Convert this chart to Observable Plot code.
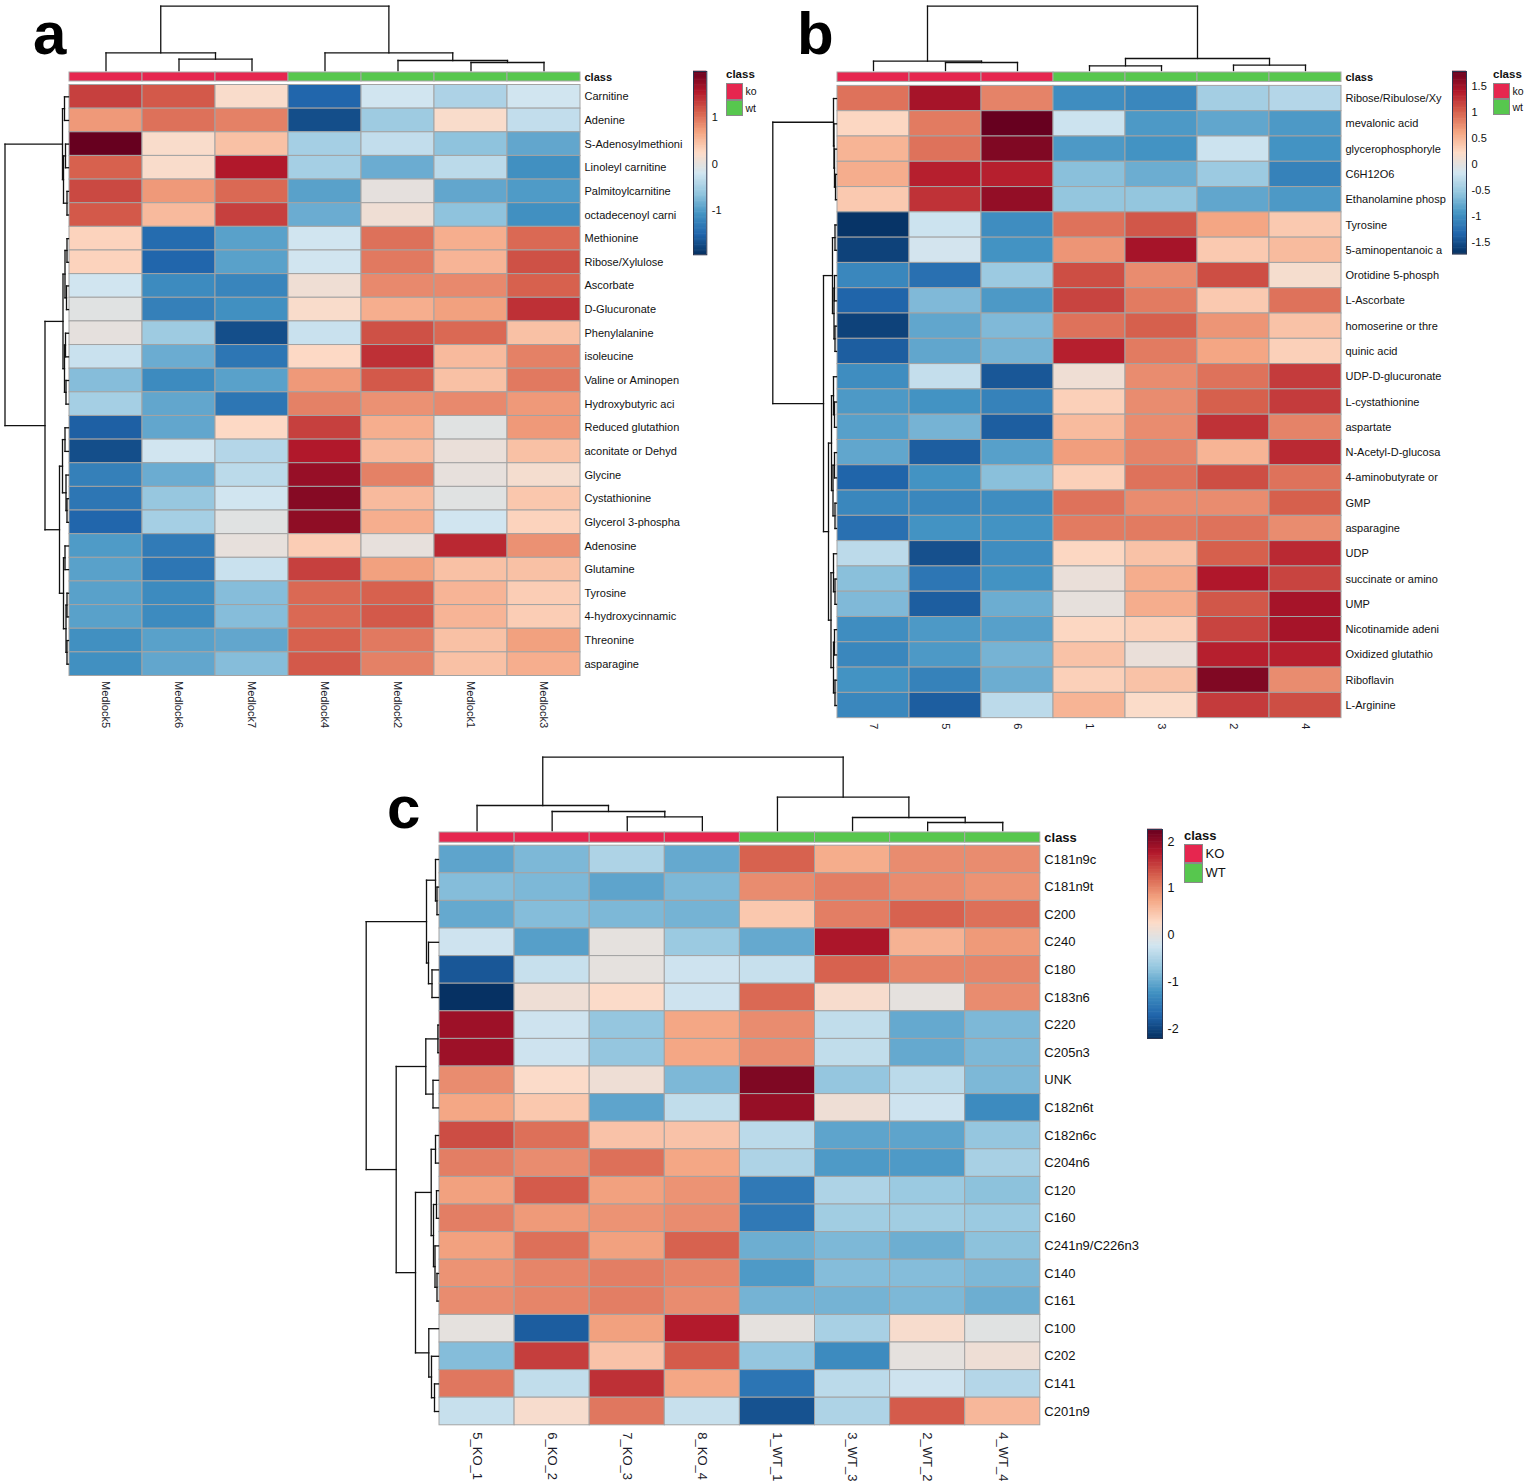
<!DOCTYPE html>
<html>
<head>
<meta charset="utf-8">
<script src="https://cdn.jsdelivr.net/npm/d3@7"></script>
<script src="https://cdn.jsdelivr.net/npm/@observablehq/plot@0.6"></script>
<style>
  body { margin: 0; background: #fff; }
  #page { position: relative; width: 1530px; height: 1483px; overflow: hidden; background: #fff;
          font-family: "Liberation Sans", Arial, sans-serif; color: #111; }
  .abs { position: absolute; }
  .letter { position: absolute; font: bold 60px "Liberation Sans", Arial, sans-serif; line-height: 1; color: #000; }
  .key-title { position: absolute; font-weight: bold; line-height: 1; }
  .key-label { position: absolute; line-height: 1; }
  .sw { position: absolute; box-sizing: border-box; border: 1px solid #8a8a8a; }
</style>
</head>
<body>
<div id="page"></div>
<script>
// ---------------- data ----------------
const palette = ["#053061","#2166AC","#4393C3","#92C5DE","#D1E5F0","#FDDBC7","#F4A582","#D6604D","#B2182B","#67001F"];
const KO_COLOR = "#E6264F";
const WT_COLOR = "#57C74E";

// panel a
const aCols = ["Medlock5","Medlock6","Medlock7","Medlock4","Medlock2","Medlock1","Medlock3"];
const aClass = ["ko","ko","ko","wt","wt","wt","wt"];
const aRows = ["Carnitine","Adenine","S-Adenosylmethioni","Linoleyl carnitine","Palmitoylcarnitine","octadecenoyl carni",
  "Methionine","Ribose/Xylulose","Ascorbate","D-Glucuronate","Phenylalanine","isoleucine","Valine or Aminopen",
  "Hydroxybutyric aci","Reduced glutathion","aconitate or Dehyd","Glycine","Cystathionine","Glycerol 3-phospha",
  "Adenosine","Glutamine","Tyrosine","4-hydroxycinnamic","Threonine","asparagine"];
const aValues = [
  [1.3,1.15,0.2,-1.5,-0.2,-0.45,-0.2],
  [0.75,1.0,0.9,-1.7,-0.55,0.2,-0.3],
  [1.98,0.2,0.45,-0.5,-0.3,-0.65,-0.9],
  [1.1,0.2,1.55,-0.5,-0.85,-0.35,-1.1],
  [1.25,0.75,1.05,-0.95,0.0,-0.9,-1.0],
  [1.15,0.5,1.3,-0.85,0.1,-0.65,-1.1],
  [0.3,-1.45,-0.95,-0.2,1.0,0.6,1.05],
  [0.3,-1.5,-0.95,-0.2,0.95,0.55,1.2],
  [-0.2,-1.15,-1.2,0.1,0.85,0.85,1.1],
  [-0.05,-1.25,-1.1,0.2,0.6,0.7,1.4],
  [0.0,-0.55,-1.7,-0.25,1.2,1.05,0.45],
  [-0.25,-0.85,-1.35,0.25,1.4,0.5,0.9],
  [-0.7,-1.15,-0.95,0.75,1.15,0.45,0.95],
  [-0.5,-0.9,-1.35,0.9,0.8,0.85,0.75],
  [-1.55,-0.9,0.25,1.3,0.6,-0.05,0.75],
  [-1.7,-0.2,-0.4,1.55,0.5,0.05,0.45],
  [-1.25,-0.85,-0.35,1.7,0.9,0.02,0.15],
  [-1.35,-0.6,-0.2,1.8,0.5,-0.05,0.4],
  [-1.5,-0.5,-0.05,1.75,0.6,-0.2,0.3],
  [-1.0,-1.3,0.02,0.35,0.02,1.45,0.8],
  [-0.95,-1.35,-0.25,1.3,0.7,0.45,0.45],
  [-0.95,-1.15,-0.7,1.05,1.1,0.55,0.35],
  [-0.95,-1.15,-0.7,1.05,1.15,0.55,0.35],
  [-1.1,-0.95,-0.9,1.1,0.95,0.45,0.7],
  [-1.1,-0.9,-0.7,1.15,0.9,0.45,0.6]
];
// trees: [mergeHeight, left, right]; leaves are row/column indices
const aColTree = [64.3, [17.7, 0, [11.3, 1, 2]], [17.7, 3, [10, 4, [8, 5, 6]]]];
const aRowTree = [63.5,
  [6, [4, 0, 1], [5, [3, 2, 3], [1.5, 4, 5]]],
  [23.5,
    [5.5, [3.5, [1.5, 6, 7], [2, 8, 9]], [4, [3, 10, 11], [2.5, 12, 13]]],
    [9,
      [6, [3.5, 14, 15], [2.5, 16, [1.5, 17, 18]]],
      [5, [3.5, 19, 20], [2.5, [1.5, 21, 22], [1.5, 23, 24]]]]]];
const aRange = [-1.94, 1.98];
const aTicks = [-1, 0, 1];

// panel b
const bCols = ["7","5","6","1","3","2","4"];
const bClass = ["ko","ko","ko","wt","wt","wt","wt"];
const bRows = ["Ribose/Ribulose/Xy","mevalonic acid","glycerophosphoryle","C6H12O6","Ethanolamine phosp","Tyrosine",
  "5-aminopentanoic a","Orotidine 5-phosph","L-Ascorbate","homoserine or thre","quinic acid","UDP-D-glucuronate",
  "L-cystathionine","aspartate","N-Acetyl-D-glucosa","4-aminobutyrate or","GMP","asparagine","UDP",
  "succinate or amino","UMP","Nicotinamide adeni","Oxidized glutathio","Riboflavin","L-Arginine"];
const bValues = [
  [0.9,1.45,0.8,-1.0,-1.05,-0.45,-0.35],
  [0.25,0.85,1.78,-0.2,-0.9,-0.8,-0.9],
  [0.5,0.9,1.65,-0.9,-0.95,-0.2,-0.95],
  [0.55,1.35,1.35,-0.6,-0.75,-0.5,-1.1],
  [0.35,1.25,1.55,-0.55,-0.55,-0.8,-0.9],
  [-1.7,-0.2,-1.0,0.9,1.05,0.6,0.35],
  [-1.6,-0.15,-0.95,0.7,1.45,0.35,0.45],
  [-1.05,-1.25,-0.5,1.1,0.75,1.1,0.15],
  [-1.35,-0.65,-0.9,1.15,0.85,0.35,0.9],
  [-1.6,-0.8,-0.65,0.9,1.0,0.7,0.4],
  [-1.4,-0.8,-0.7,1.35,0.85,0.6,0.3],
  [-1.0,-0.25,-1.45,0.1,0.75,0.9,1.2],
  [-0.9,-0.95,-1.1,0.3,0.75,1.0,1.2],
  [-0.85,-0.7,-1.4,0.45,0.75,1.25,0.8],
  [-0.8,-1.4,-0.85,0.65,0.8,0.5,1.3],
  [-1.35,-0.95,-0.6,0.3,0.9,1.1,0.9],
  [-1.05,-1.05,-1.0,0.9,0.75,0.75,1.0],
  [-1.25,-0.95,-0.95,0.85,0.85,0.9,0.75],
  [-0.3,-1.5,-1.0,0.25,0.4,1.0,1.3],
  [-0.6,-1.2,-0.95,0.05,0.55,1.4,1.15],
  [-0.65,-1.4,-0.75,0.02,0.55,1.05,1.45],
  [-1.0,-0.9,-0.85,0.25,0.3,1.15,1.45],
  [-1.05,-0.9,-0.7,0.4,0.05,1.35,1.35],
  [-0.95,-1.1,-0.75,0.3,0.4,1.65,0.75],
  [-1.05,-1.4,-0.3,0.5,0.2,1.2,1.1]
];
const bColTree = [64.3, [9.3, 0, [8, 1, 2]], [12, [4.7, 3, 4], [5.3, 5, 6]]];
const bRowTree = [63.7,
  [3, 0, [2.5, 1, [2, 2, [1, 3, 4]]]],
  [13,
    [4, [1.5, 5, 6], [2.5, [2, 7, 8], [1.5, 9, 10]]],
    [8,
      [5, [3, 11, [2, 12, 13]], [3.5, [2, 14, 15], [1.5, 16, 17]]],
      [5.5, [3, 18, [1.5, 19, 20]], [3, [2, 21, 22], [1.5, 23, 24]]]]]];
const bRange = [-1.73, 1.78];
const bTicks = [-1.5, -1, -0.5, 0, 0.5, 1, 1.5];

// panel c
const cCols = ["5_KO_1","6_KO_2","7_KO_3","8_KO_4","1_WT_1","3_WT_3","2_WT_2","4_WT_4"];
const cClass = ["ko","ko","ko","ko","wt","wt","wt","wt"];
const cRows = ["C181n9c","C181n9t","C200","C240","C180","C183n6","C220","C205n3","UNK","C182n6t","C182n6c",
  "C204n6","C120","C160","C241n9/C226n3","C140","C161","C100","C202","C141","C201n9"];
const cValues = [
  [-1.05,-0.85,-0.5,-1.0,1.25,0.7,0.95,0.95],
  [-0.8,-0.85,-1.05,-0.85,0.95,1.05,0.95,0.9],
  [-1.0,-0.8,-0.85,-0.9,0.45,1.05,1.25,1.15],
  [-0.25,-1.1,0.0,-0.65,-1.0,1.8,0.65,0.85],
  [-1.85,-0.3,0.0,-0.25,-0.3,1.25,1.0,1.0],
  [-2.2,0.1,0.25,-0.25,1.2,0.2,0.0,0.95],
  [1.9,-0.25,-0.7,0.75,0.95,-0.35,-1.0,-0.85],
  [1.9,-0.25,-0.7,0.75,0.95,-0.35,-1.0,-0.85],
  [0.95,0.25,0.1,-0.85,2.1,-0.7,-0.4,-0.85],
  [0.75,0.45,-1.05,-0.35,1.95,0.1,-0.25,-1.3],
  [1.4,1.15,0.5,0.5,-0.4,-1.05,-1.05,-0.7],
  [1.05,0.95,1.15,0.75,-0.5,-1.15,-1.15,-0.55],
  [0.8,1.3,0.8,0.9,-1.5,-0.5,-0.65,-0.75],
  [1.05,0.85,0.9,0.95,-1.5,-0.6,-0.6,-0.65],
  [0.8,1.15,0.8,1.25,-0.95,-0.85,-0.95,-0.75],
  [0.9,1.0,1.05,1.0,-1.15,-0.8,-0.8,-0.85],
  [0.95,1.0,1.05,0.95,-0.9,-0.9,-0.85,-0.95],
  [0.0,-1.8,0.8,1.75,0.0,-0.55,0.2,-0.05],
  [-0.8,1.5,0.5,1.3,-0.7,-1.3,0.0,0.1],
  [1.1,-0.35,1.6,0.75,-1.55,-0.4,-0.25,-0.45],
  [-0.3,0.2,1.1,-0.3,-1.9,-0.5,1.3,0.6]
];
const cColTree = [73.3, [25, 0, [19, 1, [13.7, 2, 3]]], [33.3, 4, [13, 5, [8, 6, 7]]]];
const cRowTree = [72.3,
  [12, [3, 0, [1.5, 1, 2]], [10, 3, [6.5, 4, 5]]],
  [42.3,
    [12.7, [0.6, 6, 7], [5.5, 8, 9]],
    [23,
      [7.3, [3, 10, 11], [5, [2, 12, 13], [3.5, 14, [1.5, 15, 16]]]],
      [9.7, 17, [7, 18, [4, 19, 20]]]]]];
const cRange = [-2.21, 2.26];
const cTicks = [-2, -1, 0, 1, 2];

// ---------------- helpers ----------------
const FONT = "'Liberation Sans', Arial, sans-serif";
const page = document.getElementById("page");

function colorOptions([lo, hi]) {
  return {
    type: "linear",
    domain: palette.map((_, i) => lo + (hi - lo) * i / (palette.length - 1)),
    range: palette,
    interpolate: "rgb",
    clamp: true
  };
}

// dendrogram layout: leaves sit at index + 0.5, a merge sits midway between its children
function layoutTree(node, segs) {
  if (typeof node === "number") return {p: node + 0.5, h: 0};
  const [h, a, b] = node;
  const A = layoutTree(a, segs), B = layoutTree(b, segs);
  segs.push({p1: A.p, p2: A.p, h1: A.h, h2: h});
  segs.push({p1: B.p, p2: B.p, h1: B.h, h2: h});
  segs.push({p1: A.p, p2: B.p, h1: h, h2: h});
  return {p: (A.p + B.p) / 2, h};
}

function place(el, left, top) {
  const wrap = document.createElement("div");
  wrap.className = "abs";
  wrap.style.left = left + "px";
  wrap.style.top = top + "px";
  wrap.appendChild(el);
  page.appendChild(wrap);
}

function heatmapPanel(p) {
  const nC = p.cols.length, nR = p.rows.length;
  const cells = [];
  p.values.forEach((row, r) => row.forEach((v, c) => cells.push({r, c, v})));
  const colSegs = [], rowSegs = [];
  layoutTree(p.colTree, colSegs);
  layoutTree(p.rowTree, rowSegs);
  const colY = h => -(p.colBase + h) / p.rh;
  const rowX = h => -(p.rowBase + h) / p.cw;
  const samples = p.cols.map((name, i) => ({name, i, cls: p.classes[i]}));
  const barTop = -p.classBar[0] / p.rh, barBottom = -p.classBar[1] / p.rh;
  const classRect = (cls, fill) => Plot.rect(samples.filter(d => d.cls === cls), {
    x1: d => d.i, x2: d => d.i + 1, y1: barTop, y2: barBottom,
    fill, stroke: "#a8a8a8", strokeWidth: 1
  });
  const chart = Plot.plot({
    width: p.W, height: p.H, margin: 0,
    x: {type: "linear", domain: [-p.x0 / p.cw, (p.W - p.x0) / p.cw], range: [0, p.W], axis: null},
    y: {type: "linear", domain: [-p.y0 / p.rh, (p.H - p.y0) / p.rh], range: [0, p.H], axis: null},
    color: colorOptions(p.range),
    style: {background: "transparent", fontFamily: FONT, color: "#111", overflow: "visible"},
    marks: [
      Plot.rect(cells, {
        x1: d => d.c, x2: d => d.c + 1, y1: d => d.r, y2: d => d.r + 1,
        fill: "v", stroke: "#a3a3a3", strokeWidth: 1
      }),
      classRect("ko", KO_COLOR),
      classRect("wt", WT_COLOR),
      Plot.text(["class"], {
        x: nC, y: (barTop + barBottom) / 2, text: d => d, dx: 4,
        textAnchor: "start", fontWeight: "bold", fontSize: p.rowFont, fill: "#111"
      }),
      Plot.link(colSegs, {
        x1: "p1", x2: "p2", y1: d => colY(d.h1), y2: d => colY(d.h2),
        stroke: "#111", strokeWidth: 1.3, strokeLinecap: "square"
      }),
      Plot.link(rowSegs, {
        y1: "p1", y2: "p2", x1: d => rowX(d.h1), x2: d => rowX(d.h2),
        stroke: "#111", strokeWidth: 1.3, strokeLinecap: "square"
      }),
      Plot.text(p.rows, {
        x: nC, y: (d, i) => i + 0.5, text: d => d, dx: 4,
        textAnchor: "start", fontSize: p.rowFont, fill: "#111"
      }),
      Plot.text(p.cols, {
        x: (d, i) => i + 0.5, y: nR, text: d => d, dy: p.colLabelGap,
        rotate: 90, textAnchor: "start", fontSize: p.colFont, fill: "#1a1a2a"
      })
    ]
  });
  place(chart, p.left, p.top);
}

function colorLegend(p) {
  const [lo, hi] = p.range;
  const n = 150;
  const steps = d3.range(n).map(i => ({v0: lo + (hi - lo) * i / n, v1: lo + (hi - lo) * (i + 1) / n}));
  const chart = Plot.plot({
    width: p.w + 36, height: p.h,
    marginLeft: 0, marginTop: 0, marginBottom: 0, marginRight: 36,
    x: {type: "linear", domain: [0, 1], axis: null},
    y: {domain: [lo, hi], axis: "right", ticks: p.ticks, tickSize: 0, tickPadding: 5,
        tickFormat: d => String(d), label: null},
    color: colorOptions(p.range),
    style: {background: "transparent", fontFamily: FONT, fontSize: p.font + "px", color: "#111", overflow: "visible"},
    marks: [
      Plot.rect(steps, {x1: 0, x2: 1, y1: "v0", y2: "v1", fill: d => (d.v0 + d.v1) / 2,
                        insetTop: -0.3, insetBottom: -0.3}),
      Plot.frame({stroke: "#2a3550", strokeWidth: 1})
    ]
  });
  place(chart, p.left, p.top);
}

function classKey(k) {
  const t = document.createElement("div");
  t.className = "key-title";
  t.textContent = "class";
  Object.assign(t.style, {left: k.x + "px", top: k.titleTop + "px", fontSize: k.titleFont + "px"});
  page.appendChild(t);
  [["ko", KO_COLOR], ["wt", WT_COLOR]].forEach(([cls, color], i) => {
    const s = document.createElement("div");
    s.className = "sw";
    Object.assign(s.style, {
      left: k.x + "px", top: (k.swTop + i * k.swH) + "px",
      width: k.swW + "px", height: k.swH + "px", background: color
    });
    page.appendChild(s);
    const l = document.createElement("div");
    l.className = "key-label";
    l.textContent = k.labels[i];
    Object.assign(l.style, {
      left: (k.x + k.swW + 3) + "px",
      top: (k.swTop + i * k.swH + (k.swH - k.labelFont) / 2) + "px",
      fontSize: k.labelFont + "px"
    });
    page.appendChild(l);
  });
}

function panelLetter(text, left, top) {
  const d = document.createElement("div");
  d.className = "letter";
  d.textContent = text;
  d.style.left = left + "px";
  d.style.top = top + "px";
  page.appendChild(d);
}

// ---------------- panels ----------------
heatmapPanel({
  left: 0, top: 0, W: 760, H: 745,
  x0: 69, y0: 84.5, cw: 73, rh: 23.64,
  cols: aCols, classes: aClass, rows: aRows, values: aValues,
  colTree: aColTree, rowTree: aRowTree, range: aRange,
  colBase: 14.5, rowBase: 1, classBar: [12.5, 3.5],
  rowFont: 11, colFont: 11, colLabelGap: 5
});
heatmapPanel({
  left: 760, top: 0, W: 770, H: 745,
  x0: 77, y0: 85.4, cw: 72, rh: 25.29,
  cols: bCols, classes: bClass, rows: bRows, values: bValues,
  colTree: bColTree, rowTree: bRowTree, range: bRange,
  colBase: 15.4, rowBase: 1, classBar: [13.4, 4],
  rowFont: 11, colFont: 11, colLabelGap: 5
});
heatmapPanel({
  left: 340, top: 745, W: 900, H: 738,
  x0: 99, y0: 100.2, cw: 75.1, rh: 27.6,
  cols: cCols, classes: cClass, rows: cRows, values: cValues,
  colTree: cColTree, rowTree: cRowTree, range: cRange,
  colBase: 15.2, rowBase: 1, classBar: [13.2, 3],
  rowFont: 13, colFont: 13, colLabelGap: 7
});

colorLegend({left: 692.7, top: 70.7, w: 13.3, h: 183.3, range: aRange, ticks: aTicks, font: 11});
colorLegend({left: 1451.7, top: 70.7, w: 14, h: 182.6, range: bRange, ticks: bTicks, font: 11});
colorLegend({left: 1146.7, top: 829.3, w: 15, h: 209, range: cRange, ticks: cTicks, font: 12.5});

classKey({x: 726, titleTop: 69, titleFont: 11.5, swTop: 83, swW: 16.5, swH: 16.5, labels: ["ko", "wt"], labelFont: 10.5});
classKey({x: 1493, titleTop: 69, titleFont: 11.5, swTop: 83, swW: 16.5, swH: 16, labels: ["ko", "wt"], labelFont: 10.5});
classKey({x: 1184, titleTop: 829, titleFont: 13, swTop: 844, swW: 18.5, swH: 19.3, labels: ["KO", "WT"], labelFont: 13});

panelLetter("a", 33, 4);
panelLetter("b", 797, 4);
panelLetter("c", 387, 778);
</script>
</body>
</html>
